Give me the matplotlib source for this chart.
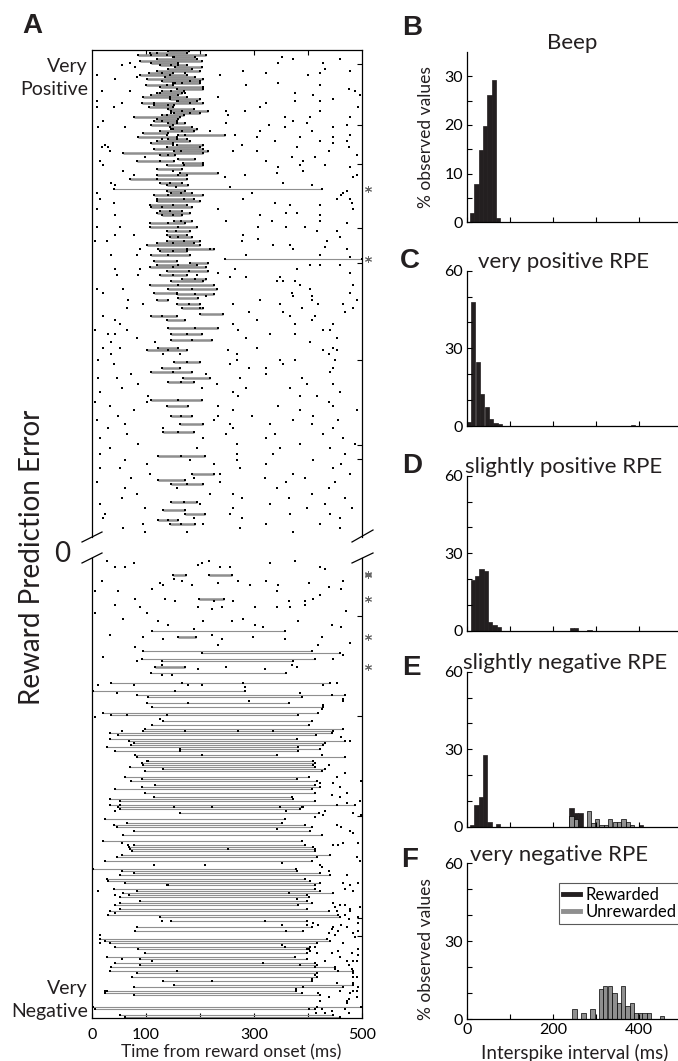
import numpy as np
import matplotlib.pyplot as plt
from matplotlib.lines import Line2D

plt.rcParams['font.family'] = ['Lato', 'DejaVu Sans']

W, H = 678, 1061
GRAY = '#8f8f8f'
DARK = '#231f20'

# ---- raster, positive RPE half: (trial, isi start, isi end) in ms
top_isi = [
    (0, 140, 180), (1, 107, 175), (2, 86, 212), (3, 150, 190), (4, 120, 194), (5, 89, 203),
    (6, 110, 160), (7, 126, 175), (8, 154, 203), (9, 140, 185), (10, 120, 200), (11, 105, 150),
    (12, 89, 175), (13, 135, 190), (14, 101, 206), (15, 129, 200), (16, 150, 200), (17, 100, 150),
    (18, 126, 206), (19, 157, 206), (20, 130, 170), (21, 120, 166), (22, 110, 160), (23, 95, 175),
    (24, 145, 200), (25, 160, 195), (26, 92, 206), (27, 114, 151), (28, 105, 150), (29, 141, 188),
    (30, 147, 215), (31, 151, 200), (32, 130, 170), (33, 77, 163), (34, 120, 160), (35, 114, 157),
    (36, 141, 172), (37, 110, 150), (38, 145, 185), (39, 150, 195), (40, 126, 188), (41, 95, 140),
    (42, 160, 246), (43, 86, 157), (44, 140, 175), (45, 120, 181), (46, 110, 150), (47, 157, 206),
    (48, 138, 200), (49, 114, 206), (50, 151, 215), (51, 58, 206), (52, 126, 154), (54, 160, 191),
    (55, 83, 151), (56, 169, 206), (57, 138, 206), (59, 120, 166), (61, 163, 234), (62, 120, 175),
    (64, 70, 175), (66, 126, 166), (67, 138, 178), (69, 40, 425), (70, 138, 172), (71, 147, 185),
    (72, 114, 206), (74, 120, 188), (75, 120, 200), (77, 107, 175), (78, 110, 185), (80, 126, 166),
    (81, 120, 181), (82, 129, 166), (85, 151, 185), (86, 107, 172), (88, 107, 194), (90, 138, 181),
    (92, 138, 175), (93, 145, 185), (95, 138, 200), (96, 120, 188), (97, 101, 200), (99, 123, 225),
    (100, 126, 175), (102, 110, 181), (104, 246, 500), (105, 114, 157), (106, 181, 215),
    (107, 120, 194), (108, 107, 212), (110, 138, 215), (112, 126, 175), (114, 166, 212),
    (115, 147, 206), (117, 107, 225), (119, 141, 231), (121, 114, 157), (122, 157, 225),
    (124, 160, 197), (125, 120, 141), (127, 157, 200), (129, 166, 206), (132, 200, 243),
    (133, 110, 157), (135, 138, 172), (139, 141, 234), (142, 147, 203), (145, 147, 222),
    (149, 123, 160), (150, 101, 175), (156, 151, 200), (159, 129, 163), (161, 110, 185),
    (164, 169, 219), (166, 141, 188), (175, 110, 203), (178, 138, 178), (183, 147, 185),
    (187, 163, 206), (191, 132, 188), (203, 123, 209), (212, 185, 225), (215, 123, 172),
    (217, 147, 206), (226, 147, 194), (230, 132, 172), (232, 172, 209), (235, 123, 160),
    (237, 145, 191),
]

# other spikes (trial, time ms)
top_spikes = [
    (2, 110), (3, 351), (4, 373), (4, 459), (6, 70), (6, 345), (6, 428), (7, 55), (8, 80), (9, 431),
    (10, 280), (10, 478), (11, 323), (11, 422), (12, 9), (12, 237), (12, 400), (13, 83), (14, 43),
    (16, 345), (17, 286), (17, 422), (19, 475), (20, 18), (20, 70), (20, 487), (21, 376), (22, 410),
    (22, 496), (23, 234), (24, 447), (25, 9), (25, 376), (25, 422), (26, 55), (26, 323), (28, 9),
    (28, 40), (28, 311), (28, 493), (30, 249), (30, 283), (30, 422), (32, 252), (33, 357), (33, 404),
    (33, 478), (35, 21), (35, 373), (36, 249), (36, 398), (37, 327), (37, 472), (38, 12), (38, 61),
    (38, 357), (38, 447), (40, 219), (40, 311), (40, 407), (42, 265), (42, 478), (43, 305), (43, 385),
    (43, 447), (45, 339), (45, 422), (45, 472), (46, 447), (47, 24), (47, 277), (48, 18), (48, 30),
    (48, 379), (48, 475), (50, 33), (50, 262), (50, 305), (50, 438), (52, 490), (53, 98), (53, 370),
    (53, 413), (55, 15), (55, 323), (55, 391), (57, 21), (57, 385), (57, 431), (58, 345), (58, 478),
    (60, 58), (60, 391), (61, 342), (62, 77), (62, 283), (62, 490), (63, 246), (63, 484), (66, 36),
    (66, 354), (67, 43), (67, 407), (68, 256), (70, 472), (71, 9), (71, 296), (71, 465), (72, 462),
    (74, 15), (74, 280), (74, 453), (74, 478), (76, 40), (76, 339), (76, 481), (77, 367), (77, 422),
    (79, 9), (79, 234), (79, 484), (81, 360), (81, 379), (82, 43), (82, 311), (82, 422), (85, 249),
    (85, 333), (85, 422), (86, 472), (88, 9), (88, 52), (88, 308), (88, 360), (88, 394), (90, 416),
    (90, 453), (92, 43), (92, 77), (92, 280), (93, 459), (94, 308), (95, 6), (95, 27), (95, 277),
    (95, 435), (97, 336), (97, 367), (98, 431), (99, 89), (99, 219), (99, 373), (99, 472), (102, 36),
    (102, 83), (102, 286), (102, 422), (103, 478), (107, 404), (107, 422), (107, 459), (109, 43),
    (109, 89), (109, 265), (109, 379), (111, 234), (111, 478), (112, 46), (112, 86), (112, 194),
    (113, 256), (113, 286), (113, 348), (115, 342), (115, 354), (115, 376), (117, 385), (117, 484),
    (119, 9), (119, 58), (119, 404), (121, 21), (121, 370), (121, 478), (123, 212), (123, 373),
    (123, 407), (125, 67), (125, 311), (125, 407), (125, 490), (127, 95), (127, 262), (127, 348),
    (127, 419), (127, 465), (129, 64), (129, 200), (129, 388), (129, 484), (131, 290), (131, 354),
    (131, 468), (133, 21), (133, 367), (133, 413), (135, 43), (135, 305), (135, 407), (137, 52),
    (137, 262), (137, 376), (137, 447), (140, 6), (140, 64), (140, 271), (140, 428), (140, 441),
    (142, 30), (142, 43), (142, 330), (142, 376), (144, 83), (144, 286), (144, 453), (146, 36),
    (146, 117), (146, 404), (149, 21), (149, 52), (149, 305), (149, 447), (150, 252), (150, 428),
    (150, 453), (152, 36), (152, 132), (152, 163), (152, 268), (152, 438), (155, 12), (155, 268),
    (155, 348), (155, 376), (155, 450), (157, 40), (157, 256), (157, 354), (159, 290), (159, 323),
    (159, 447), (162, 73), (162, 212), (162, 323), (161, 441), (164, 12), (164, 46), (164, 274),
    (164, 388), (167, 86), (167, 231), (167, 398), (167, 447), (169, 55), (169, 203), (169, 286),
    (169, 367), (171, 15), (171, 262), (171, 459), (173, 104), (173, 271), (173, 385), (173, 416),
    (176, 6), (176, 101), (176, 438), (178, 33), (178, 234), (178, 345), (178, 447), (180, 77),
    (180, 262), (180, 385), (180, 490), (183, 49), (183, 234), (183, 296), (183, 410), (185, 9),
    (185, 225), (185, 373), (185, 456), (187, 61), (187, 256), (187, 330), (187, 407), (189, 30),
    (189, 132), (189, 262), (189, 447), (192, 64), (192, 249), (192, 339), (192, 428), (194, 15),
    (194, 206), (194, 323), (194, 465), (197, 86), (197, 268), (197, 385), (197, 487), (199, 33),
    (199, 194), (199, 348), (199, 441), (202, 15), (202, 268), (202, 336), (202, 469), (205, 61),
    (205, 181), (205, 268), (205, 410), (207, 101), (207, 225), (207, 323), (207, 462), (209, 15),
    (209, 52), (209, 274), (209, 447), (212, 107), (212, 237), (212, 373), (212, 478), (214, 73),
    (214, 188), (214, 320), (214, 394), (216, 9), (216, 237), (216, 360), (216, 450), (219, 61),
    (219, 157), (219, 342), (219, 438), (222, 83), (222, 219), (222, 262), (222, 407), (224, 55),
    (224, 277), (224, 364), (224, 469), (227, 15), (227, 200), (227, 330), (227, 431), (229, 98),
    (229, 262), (229, 398), (229, 481), (232, 24), (232, 256), (232, 367), (232, 441), (234, 21),
    (234, 188), (234, 277), (234, 459), (237, 95), (237, 206), (237, 323), (237, 422), (239, 58),
    (239, 274), (239, 459), (241, 98), (241, 175), (241, 373),
    # spikes inside the burst band
    (1, 120), (2, 138), (3, 151), (7, 147), (7, 160), (11, 129), (12, 144), (11, 172), (16, 154),
    (15, 181), (16, 166), (17, 138), (20, 147), (21, 172), (21, 126), (23, 144), (25, 157), (26, 114),
    (27, 141), (26, 181), (31, 147), (30, 166), (32, 138), (31, 181), (35, 129), (36, 157), (39, 147),
    (40, 166), (42, 138), (42, 172), (44, 129), (44, 157), (47, 150), (50, 165), (52, 140), (55, 125),
    (57, 170), (60, 150), (62, 160), (64, 120), (66, 145), (68, 155), (71, 165), (72, 140), (74, 170),
    (77, 150), (78, 130), (80, 145), (82, 150), (85, 165), (86, 140), (88, 160), (90, 155), (93, 160),
    (95, 170), (96, 150), (99, 175), (100, 150), (102, 140), (107, 160), (108, 150), (110, 180),
    (112, 150), (114, 190), (117, 160), (119, 185), (122, 190), (127, 180), (133, 130), (139, 190),
    (142, 175), (145, 185), (150, 140), (156, 175), (161, 150), (166, 165), (175, 160), (183, 165),
    (191, 160), (203, 165), (217, 175), (226, 170), (235, 140), (237, 165),
]

# ---- raster, negative RPE half
bot_isi = [
    (8, 217, 259), (8, 150, 174), (20, 198, 245), (36, 111, 358), (39, 160, 192), (46, 95, 407),
    (47, 203, 459), (50, 92, 413), (51, 130, 373), (54, 117, 172), (57, 109, 360), (62, 36, 441),
    (66, 2, 283), (68, 83, 469), (69, 104, 388), (72, 101, 364), (74, 111, 428), (77, 21, 419),
    (78, 36, 382), (81, 132, 407), (83, 111, 401), (85, 99, 465), (86, 95, 447), (87, 33, 444),
    (88, 49, 414), (90, 33, 380), (91, 68, 469), (92, 77, 432), (93, 73, 428), (94, 27, 382),
    (95, 163, 422), (96, 43, 382), (98, 80, 342), (99, 83, 469), (101, 101, 410), (102, 92, 413),
    (103, 95, 410), (104, 71, 413), (105, 132, 432), (106, 99, 425), (109, 62, 401), (110, 92, 380),
    (111, 73, 416), (113, 117, 413), (114, 92, 422), (115, 43, 407), (117, 99, 413), (119, 114, 370),
    (120, 33, 373), (121, 52, 413), (123, 33, 487), (124, 49, 391), (125, 52, 385), (127, 163, 420),
    (130, 24, 357), (132, 64, 351), (133, 40, 394), (134, 46, 407), (136, 77, 404), (138, 58, 425),
    (141, 21, 388), (143, 77, 394), (144, 68, 410), (145, 71, 413), (146, 74, 413), (148, 55, 441),
    (149, 46, 416), (151, 24, 407), (155, 2, 378), (156, 55, 380), (157, 77, 422), (158, 52, 441),
    (160, 27, 394), (161, 30, 404), (162, 62, 422), (163, 138, 413), (165, 40, 413), (166, 83, 422),
    (167, 58, 447), (168, 68, 398), (169, 52, 401), (171, 89, 398), (172, 52, 407), (173, 43, 382),
    (175, 52, 398), (176, 33, 438), (178, 30, 456), (179, 126, 459), (181, 147, 398), (184, 83, 407),
    (186, 80, 391), (190, 15, 435), (191, 24, 441), (192, 33, 416), (194, 43, 404), (195, 86, 401),
    (197, 99, 398), (199, 27, 376), (200, 89, 398), (202, 43, 413), (203, 89, 416), (204, 36, 450),
    (206, 33, 484), (207, 83, 416), (209, 74, 416), (211, 132, 407), (213, 151, 484), (214, 77, 465),
    (216, 27, 378), (217, 24, 388), (218, 77, 422), (224, 2, 499), (225, 5, 413), (228, 52, 447),
    (229, 62, 459),
]

bot_spikes = [
    (1, 27), (4, 43), (4, 61), (2, 77), (3, 197), (2, 203), (1, 216), (4, 237), (4, 256), (2, 330),
    (1, 376), (4, 422), (5, 431), (11, 18), (12, 126), (13, 132), (10, 151), (11, 166), (13, 185),
    (12, 234), (11, 271), (13, 293), (11, 323), (13, 345), (12, 401), (14, 438), (11, 465), (16, 6),
    (16, 49), (20, 80), (15, 111), (20, 135), (21, 154), (21, 225), (21, 262), (16, 342), (21, 364),
    (21, 395), (20, 410), (18, 422), (15, 462), (27, 6), (23, 43), (24, 89), (27, 101), (24, 197),
    (25, 222), (24, 240), (24, 302), (24, 342), (24, 367), (23, 395), (26, 470), (30, 58), (31, 123),
    (33, 141), (35, 188), (31, 206), (31, 259), (30, 280), (33, 302), (34, 317), (31, 382), (33, 444),
    (34, 462), (38, 33), (39, 95), (40, 132), (38, 222), (40, 240), (39, 299), (40, 357), (39, 425),
    (42, 478), (44, 80), (43, 234), (43, 419), (49, 21), (51, 83), (53, 129), (55, 196), (54, 249),
    (55, 320), (53, 370), (54, 379), (50, 447), (48, 465), (58, 129), (58, 148), (63, 12), (63, 77),
    (62, 166), (63, 178), (63, 203), (62, 280), (64, 283), (63, 428), (62, 453), (67, 46), (66, 154),
    (67, 385), (68, 444), (70, 465), (72, 178), (71, 290), (73, 428), (75, 425), (71, 465), (79, 6),
    (78, 138), (78, 64), (80, 126), (86, 172), (86, 271), (86, 336), (86, 55), (91, 478), (89, 462),
    (96, 163), (98, 203), (98, 425), (103, 438), (101, 104), (112, 422), (109, 453), (107, 469),
    (117, 472), (112, 447), (111, 499), (114, 459), (118, 444), (119, 459), (123, 453), (122, 472),
    (121, 496), (123, 52), (124, 151), (124, 222), (124, 348), (124, 388), (126, 43), (126, 431),
    (126, 360), (127, 484), (129, 413), (128, 428), (128, 499), (133, 453), (136, 478), (137, 484),
    (135, 342), (136, 77), (134, 462), (142, 55), (143, 67), (143, 447), (143, 456), (142, 465),
    (142, 493), (145, 252), (149, 490), (151, 496), (152, 351), (153, 114), (153, 209), (153, 422),
    (154, 425), (156, 438), (158, 472), (162, 493), (166, 12), (162, 465), (163, 478), (166, 484),
    (165, 468), (168, 43), (163, 141), (167, 364), (170, 379), (172, 447), (173, 459), (175, 478),
    (174, 496), (176, 453), (178, 469), (180, 475), (182, 493), (177, 43), (184, 447), (183, 398),
    (186, 456), (183, 351), (186, 360), (181, 129), (181, 320), (188, 15), (192, 15), (197, 481),
    (201, 111), (201, 490), (200, 55), (202, 317), (206, 157), (206, 456), (209, 484), (211, 222),
    (214, 493), (219, 438), (220, 475), (216, 484), (216, 24), (221, 422), (222, 472),
    (174, 450), (173, 469), (176, 478), (179, 493), (182, 410), (183, 419), (185, 444), (183, 462),
    (184, 472), (186, 493), (187, 438), (188, 450), (187, 484), (189, 487), (192, 465), (195, 493),
    (194, 413), (197, 416), (197, 444), (196, 456), (193, 351), (194, 357), (195, 398), (196, 404),
    (201, 431), (199, 459), (201, 472), (201, 484), (198, 493), (203, 385), (204, 413), (205, 450),
    (203, 475), (205, 481), (207, 484), (209, 490), (208, 413), (210, 407), (212, 453), (212, 484),
    (215, 378), (214, 391), (217, 419), (216, 459), (217, 478), (216, 490), (219, 438), (221, 472),
    (219, 490), (224, 416), (225, 425), (225, 401), (227, 431), (226, 444), (225, 469), (227, 475),
    (227, 415),
]

top_marked = [69, 104]
bot_marked = [7.6, 8, 20, 39, 54]
top_rticks = [6.5, 37, 56.5, 88.5, 106, 155, 197.5, 204.5]
bot_rticks = [28.5, 78.5, 128.5, 179.5, 188.5]

# ---- ISI histograms (% of observed values), bin centres in ms
beep_ctr = [12, 22, 32, 42, 52, 62, 72]
beep_pct = [2.0, 7.8, 14.9, 19.7, 26.2, 29.2, 0.8]
vpos_ctr = [4, 14, 25, 35, 46, 56, 66, 76, 386]
vpos_pct = [1.7, 48, 24.8, 12.2, 7.2, 2.7, 1.3, 0.8, 0.5]
spos_ctr = [14, 24, 34, 44, 54, 64, 74, 244, 254, 285]
spos_pct = [19.7, 21.4, 23.9, 23.2, 3.5, 2.2, 1.4, 1.0, 1.0, 0.5]
sneg_rew_ctr = [11, 22, 32, 42, 52, 72, 243, 254, 264, 405]
sneg_rew_pct = [0.8, 8.6, 11.6, 27.8, 1.8, 1.0, 7.5, 5.3, 5.3, 0.8]
sneg_unr_ctr = [243, 254, 283, 294, 303, 313, 323, 333, 344, 354, 364, 374, 384]
sneg_unr_pct = [4.4, 3.1, 6.3, 1.7, 3.1, 0.8, 0.8, 3.1, 1.8, 1.8, 3.1, 1.8, 0.8]
vneg_unr_ctr = [250, 271, 292, 311, 321, 332, 343, 353, 363, 373, 383, 393, 403, 413, 424, 453]
vneg_unr_pct = [3.9, 2.6, 3.9, 11.6, 12.9, 12.9, 10.3, 6.4, 12.9, 5.1, 6.4, 2.6, 2.6, 2.6, 2.6, 1.3]


def box(l, t, r, b):
    return [l / W, 1 - b / H, (r - l) / W, (b - t) / H]


def fx(x):
    return x / W


def fy(y):
    return 1 - y / H


fig = plt.figure(figsize=(W / 100, H / 100), dpi=100)


def raster(ax, isi, spikes, nrows):
    rows = np.array([r for r, s, e in isi], float)
    st = np.array([s for r, s, e in isi], float)
    en = np.array([e for r, s, e in isi], float)
    lng = (en - st) > 150
    ax.hlines(rows[~lng], st[~lng], en[~lng], color=GRAY, lw=1.8)
    ax.hlines(rows[lng], st[lng], en[lng], color=GRAY, lw=0.8)
    dr = [r for r, t in spikes] + list(rows) + list(rows)
    dt = [t for r, t in spikes] + list(st) + list(en)
    ax.plot(dt, dr, 's', ms=1.5, mew=0, color='k')
    ax.set_xlim(0, 500)
    ax.set_ylim(nrows, -0.5)
    for s in ax.spines.values():
        s.set_linewidth(0.9)


def star(ax, rows):
    ax.plot([511] * len(rows), rows, ls='none', marker=(6, 2, 0), ms=5, mew=0.7,
            color='0.4', clip_on=False)


ax_top = fig.add_axes(box(92, 50, 362, 537))
raster(ax_top, top_isi, top_spikes, 243.5)
ax_top.spines['bottom'].set_visible(False)
ax_top.set_xticks([100, 200, 300, 400])
ax_top.set_yticks(top_rticks)
ax_top.tick_params(direction='in', length=3.5, width=0.8, top=True, bottom=False,
                   labelbottom=False, left=False, right=True, labelleft=False)
star(ax_top, top_marked)

ax_bot = fig.add_axes(box(92, 558, 362, 1018))
raster(ax_bot, bot_isi, bot_spikes, 229.5)
ax_bot.spines['top'].set_visible(False)
ax_bot.set_xticks([0, 100, 200, 300, 400, 500])
ax_bot.set_xticklabels(['0', '100', '', '300', '', '500'])
ax_bot.set_yticks(bot_rticks)
ax_bot.tick_params(direction='in', length=3.5, width=0.8, labelsize=11.5, pad=7,
                   left=False, right=True, labelleft=False)
star(ax_bot, bot_marked)

# axis break marks
for x0, x1, y0, y1 in [(82, 102, 542, 532), (82, 102, 563, 553),
                       (352, 373, 542, 530), (352, 373, 563, 553)]:
    fig.add_artist(Line2D([fx(x0), fx(x1)], [fy(y0), fy(y1)], color='k', lw=0.9))

fig.text(fx(62), fy(562), '0', fontsize=20, ha='center', va='baseline', color=DARK)
fig.text(fx(88), fy(72), 'Very', fontsize=14, ha='right', va='baseline', color=DARK)
fig.text(fx(88), fy(95), 'Positive', fontsize=14, ha='right', va='baseline', color=DARK)
fig.text(fx(88), fy(994), 'Very', fontsize=14, ha='right', va='baseline', color=DARK)
fig.text(fx(88), fy(1017), 'Negative', fontsize=14, ha='right', va='baseline', color=DARK)
fig.text(fx(40), fy(557), 'Reward Prediction Error', fontsize=20, rotation=90,
         ha='center', va='baseline', rotation_mode='anchor', color=DARK)
fig.text(fx(231), fy(1057), 'Time from reward onset (ms)', fontsize=12.5,
         ha='center', va='baseline', color=DARK)


def hist_axes(t, b, ytop, major, minor, title, title_x):
    ax = fig.add_axes(box(467, t, 682, b))
    ax.spines[['top', 'right']].set_visible(False)
    for s in ax.spines.values():
        s.set_linewidth(0.9)
    ax.set_xlim(0, 500)
    ax.set_ylim(0, ytop)
    ax.set_xticks([0, 100, 200, 300, 400])
    ax.set_xticklabels([])
    ax.set_yticks(major)
    ax.set_yticks(minor, minor=True)
    ax.tick_params(which='both', direction='in', length=3.5, width=0.8,
                   labelsize=11.5, pad=3)
    ax.annotate(title, xy=(title_x, 1), xycoords=('data', 'axes fraction'),
                xytext=(0, 2), textcoords='offset points', ha='center',
                va='baseline', fontsize=16, color=DARK)
    return ax


def bars(ax, ctr, pct, color):
    ax.bar(ctr, pct, width=10, color=color, edgecolor='k' if color == GRAY else color,
           linewidth=0.5)


ax_b = hist_axes(52, 222.3, 35, [0, 10, 20, 30], [5, 15, 25], 'Beep', 245)
bars(ax_b, beep_ctr, beep_pct, DARK)
ax_b.set_ylabel('% observed values', fontsize=12.5, color=DARK)
ax_b.yaxis.set_label_coords(-0.155, 0.5)

ax_c = hist_axes(270.7, 426, 60, [0, 30, 60], [10, 20, 40, 50], 'very positive RPE', 225)
bars(ax_c, vpos_ctr, vpos_pct, DARK)

ax_d = hist_axes(475.7, 631, 60, [0, 30, 60], [10, 20, 40, 50], 'slightly positive RPE', 225)
bars(ax_d, spos_ctr, spos_pct, DARK)

ax_e = hist_axes(671.7, 827, 60, [0, 30, 60], [10, 20, 40, 50], 'slightly negative RPE', 228)
bars(ax_e, sneg_rew_ctr, sneg_rew_pct, DARK)
bars(ax_e, sneg_unr_ctr, sneg_unr_pct, GRAY)

ax_f = hist_axes(863.3, 1019.3, 60, [0, 30, 60], [10, 20, 40, 50], 'very negative RPE', 215)
bars(ax_f, vneg_unr_ctr, vneg_unr_pct, GRAY)
ax_f.set_xticklabels(['0', '', '200', '', '400'])
ax_f.set_ylabel('% observed values', fontsize=12.5, color=DARK)
ax_f.yaxis.set_label_coords(-0.155, 0.45)
ax_f.set_xlabel('Interspike interval (ms)', fontsize=13.5, color=DARK, labelpad=5)
handles = [Line2D([], [], color=DARK, lw=3.5), Line2D([], [], color=GRAY, lw=3.5)]
leg = ax_f.legend(handles, ['Rewarded', 'Unrewarded'], loc='upper left',
                  bbox_to_anchor=(0.428, 0.874), borderaxespad=0, fontsize=12,
                  handlelength=1.0, handletextpad=0.35, borderpad=0.25,
                  labelspacing=0.05, fancybox=False, framealpha=1)
leg.get_frame().set_edgecolor('0.35')
leg.get_frame().set_linewidth(0.8)

for lab, x, y in [('A', 32, 33), ('B', 412, 35), ('C', 410, 268), ('D', 412, 473),
                  ('E', 411, 675), ('F', 410, 867)]:
    fig.text(fx(x), fy(y), lab, fontsize=20, fontweight='bold', family='Liberation Sans',
             ha='center', va='baseline', color=DARK)

fig.savefig('out.png', dpi=100)
